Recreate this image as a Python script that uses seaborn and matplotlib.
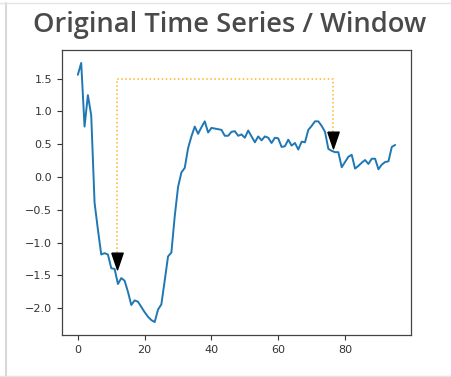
import matplotlib
matplotlib.use("Agg")
import matplotlib.pyplot as plt
from matplotlib.lines import Line2D
import seaborn as sns
import numpy as np
import pandas as pd

# series
time_idx = list(range(96))
values = [
    1.56, 1.74, 0.77, 1.25, 0.94, -0.39, -0.80, -1.18, -1.16, -1.18,
    -1.39, -1.40, -1.63, -1.54, -1.58, -1.75, -1.95, -1.88, -1.90, -1.98,
    -2.06, -2.13, -2.18, -2.21, -2.02, -1.94, -1.58, -1.21, -1.15, -0.60,
    -0.15, 0.07, 0.14, 0.44, 0.62, 0.77, 0.66, 0.76, 0.85, 0.68,
    0.75, 0.74, 0.73, 0.72, 0.63, 0.63, 0.69, 0.70, 0.63, 0.65,
    0.60, 0.71, 0.62, 0.53, 0.62, 0.56, 0.62, 0.60, 0.52, 0.60,
    0.59, 0.46, 0.47, 0.57, 0.48, 0.52, 0.42, 0.54, 0.53, 0.72,
    0.78, 0.85, 0.85, 0.78, 0.69, 0.43, 0.40, 0.38, 0.38, 0.15,
    0.23, 0.31, 0.34, 0.13, 0.17, 0.22, 0.26, 0.20, 0.28, 0.28,
    0.12, 0.19, 0.23, 0.24, 0.46, 0.49,
]

# window markers (start / end) and bracket height
window_x = [11.6, 76.4]
window_y = [-1.28, 0.56]
bracket_y = 1.5

title = "Original Time Series / Window"
x_ticks = [0, 20, 40, 60, 80]
y_ticks = [-2.0, -1.5, -1.0, -0.5, 0.0, 0.5, 1.0, 1.5]

sns.set_style("ticks")
plt.rcParams['font.family'] = ['DejaVu Sans']

df = pd.DataFrame({"t": time_idx, "value": values})

fig = plt.figure(figsize=(4.52, 3.77), dpi=100)
ax = fig.add_axes([62 / 452, 1 - 335 / 377, (411 - 62) / 452, (335 - 50) / 377])

sns.lineplot(data=df, x="t", y="value", ax=ax, color="#1f77b4", linewidth=1.4)

# dotted bracket joining the window ends
ax.plot([window_x[0], window_x[0], window_x[1], window_x[1]],
        [window_y[0], bracket_y, bracket_y, window_y[1]],
        linestyle=":", color="#ffb22a", linewidth=1.1, zorder=1)

# tall narrow down-pointing triangles
tri = [(-0.34, 0.5), (0.34, 0.5), (0.0, -0.5), (-0.34, 0.5)]
ax.plot(window_x, window_y, linestyle="none", marker=tri,
        markersize=12, color="black", zorder=3)

ax.set_xticks(x_ticks)
ax.set_yticks(y_ticks)
ax.set_xlabel("")
ax.set_ylabel("")
ax.tick_params(labelsize=8, colors="#333333", length=3.5, width=0.8)
for sp in ax.spines.values():
    sp.set_visible(True)
    sp.set_color("#444444")
    sp.set_linewidth(0.9)

fig.text(0.507, 1 - 32 / 377, title, ha="center", va="baseline",
         fontsize=19.6, fontweight="semibold", color="#4a4a4a",
         family=["Open Sans", "DejaVu Sans"])

# light frame of the slide around the figure
fig.add_artist(Line2D([6 / 452, 6 / 452], [0.0, 1 - 3 / 377], transform=fig.transFigure,
                      color="#d8d8d8", linewidth=1.5))
fig.add_artist(Line2D([0.0, 1.0], [1 - 3 / 377, 1 - 3 / 377], transform=fig.transFigure,
                      color="#e4e4e4", linewidth=1.0))
fig.add_artist(Line2D([0.0, 1.0], [1 - 376 / 377, 1 - 376 / 377], transform=fig.transFigure,
                      color="#e4e4e4", linewidth=1.0))

fig.savefig("out.png", dpi=100)
plt.close(fig)
